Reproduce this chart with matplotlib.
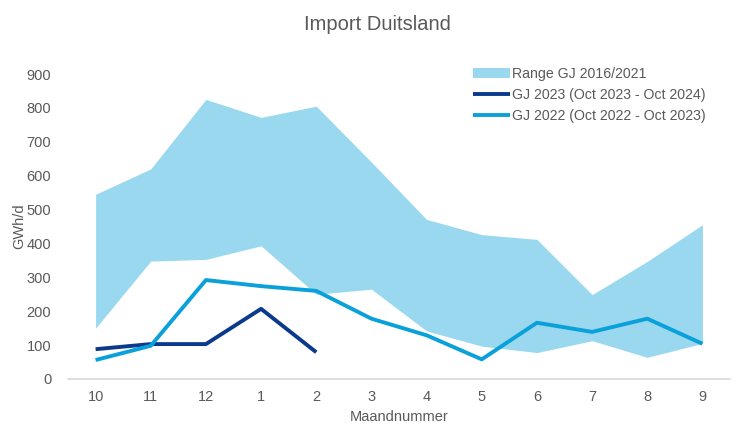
import matplotlib
matplotlib.use("Agg")
import matplotlib.pyplot as plt
import numpy as np

plt.rcParams['font.family'] = ['Liberation Sans', 'DejaVu Sans']

months = ['10', '11', '12', '1', '2', '3', '4', '5', '6', '7', '8', '9']
range_low = [150, 348, 353, 393, 250, 265, 142, 97, 78, 113, 64, 105]
range_high = [545, 620, 825, 772, 805, 640, 471, 426, 412, 249, 347, 455]
gj2023 = [88, 103, 103, 207, 79]
gj2022 = [56, 98, 292, 274, 260, 178, 129, 58, 166, 139, 178, 104]

grey = '#595959'
fig = plt.figure(figsize=(7.55, 4.25), dpi=100)
ax = fig.add_axes([68/755, 1-379/425, 662/755, 305/425])

x = np.arange(len(months))
ax.fill_between(x, range_low, range_high, color='#99D8EF', linewidth=0, label='Range GJ 2016/2021')
ax.plot(x[:len(gj2023)], gj2023, color='#0B3A8C', lw=2.8, label='GJ 2023 (Oct 2023 - Oct 2024)', solid_capstyle='butt')
ax.plot(x, gj2022, color='#0AA1DB', lw=2.8, label='GJ 2022 (Oct 2022 - Oct 2023)', solid_capstyle='butt')

ax.set_xlim(-0.5, len(months) - 0.5)
ax.set_ylim(0, 900)
ax.set_xticks(x)
ax.set_xticklabels(months)
ax.set_yticks(np.arange(0, 901, 100))
for s in ['top', 'right', 'left']:
    ax.spines[s].set_visible(False)
ax.spines['bottom'].set_color('#D9D9D9')
ax.spines['bottom'].set_linewidth(1.2)
ax.tick_params(axis='both', length=0, colors=grey, labelsize=10.5)
ax.tick_params(axis='x', pad=8)
ax.tick_params(axis='y', pad=12)
ax.set_xlabel('Maandnummer', color=grey, fontsize=10.5, labelpad=4)
ax.set_ylabel('GWh/d', color=grey, fontsize=10.5, labelpad=0)
fig.suptitle('Import Duitsland', color=grey, fontsize=14.5, y=1-25/425, va='center')

leg = ax.legend(loc='upper right', bbox_to_anchor=(0.982, 1.065), frameon=False, fontsize=10.2,
                labelcolor=grey, handlelength=2.6, handletextpad=0.1, labelspacing=0.5)

fig.savefig('out.png', dpi=100)
